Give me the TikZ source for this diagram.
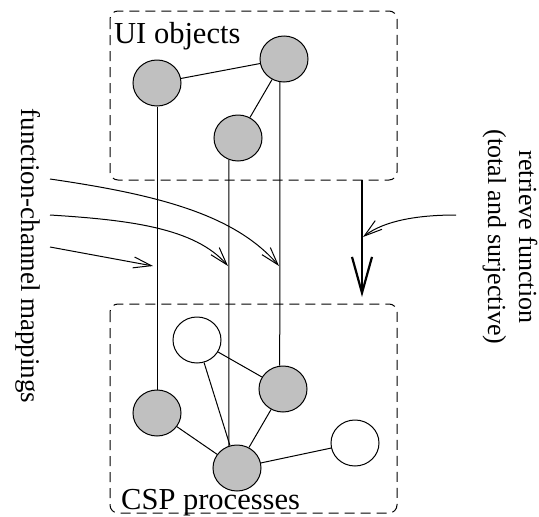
\documentclass[tikz,border=0pt]{standalone}
\usepackage{fontspec}
\setmainfont{Liberation Serif}
\usetikzlibrary{shapes.geometric,arrows.meta}
\begin{document}
\begin{tikzpicture}[x=1pt,y=-1pt,
  every node/.style={font=\fontsize{27}{31}\selectfont},
  title/.style={anchor=base west,inner sep=0pt,font=\fontsize{30.5}{34}\selectfont},
  obj/.style={ellipse,draw,line width=1pt,minimum width=48pt,minimum height=46pt,inner sep=0pt},
  fullobj/.style={obj,fill={rgb,255:red,192;green,192;blue,192}},
  emptyobj/.style={obj,fill=white},
  grp/.style={draw,dash pattern=on 10pt off 6pt,rounded corners=8pt,line width=1pt},
  link/.style={line width=1pt},
  maparrow/.style={line width=1pt,-{Straight Barb[length=18pt,width=11pt,line width=1pt]}},
  bigarrow/.style={line width=2.2pt,-{Straight Barb[length=36pt,width=20pt,line width=2.2pt]}}]
\useasboundingbox (0,0) rectangle (539,517);
% groups
\draw[grp] (110,11) rectangle (397,180);
\draw[grp] (110,304) rectangle (397,513);
\node[title] (uil) at (114,43) {UI objects};
\node[title] (cspl) at (121,509) {CSP processes};
% UI objects
\node[fullobj] (A) at (157,83) {};
\node[fullobj] (B) at (284,59) {};
\node[fullobj] (C) at (238,138) {};
% CSP processes
\node[emptyobj] (D) at (197,340) {};
\node[fullobj] (E) at (283,389) {};
\node[fullobj] (F) at (157,413) {};
\node[fullobj] (G) at (237,468) {};
\node[emptyobj] (H) at (355,443) {};
% edges
\draw[link] (A) -- (B);
\draw[link] (B) -- (C);
\draw[link] (D) -- (E);
\draw[link] (D) -- (G);
\draw[link] (F) -- (G);
\draw[link] (E) -- (G);
\draw[link] (G) -- (H);
% channel lines
\draw[link] (A.south) -- (F.north);
\draw[link] (C.247) -- (G.110);
\draw[link] (B.260) -- (E.98);
% mapping arrows
\coordinate (s1) at (50,179);
\coordinate (s2) at (50,215);
\coordinate (s3) at (50,247);
\coordinate (e1) at (279,266);
\coordinate (e2) at (228,266);
\coordinate (e3) at (153,266);
\draw[maparrow] (s1) .. controls (160,195) and (235,215) .. (e1);
\draw[maparrow] (s2) .. controls (130,220) and (195,228) .. (e2);
\draw[maparrow] (s3) -- (e3);
% retrieve function
\coordinate (r0) at (362,180);
\coordinate (r1) at (362,297);
\draw[bigarrow] (r0) -- (r1);
\coordinate (q0) at (456,215);
\coordinate (q1) at (363,237);
\draw[maparrow] (q0) .. controls (420,215) and (385,220) .. (q1);
% labels
\node[rotate=-90] (fcm) at (28,256) {function-channel mappings};
\node[rotate=-90,align=center,font=\fontsize{26}{31}\selectfont] (rf) at (510,237) {retrieve function\\(total and surjective)};
\end{tikzpicture}
\end{document}
